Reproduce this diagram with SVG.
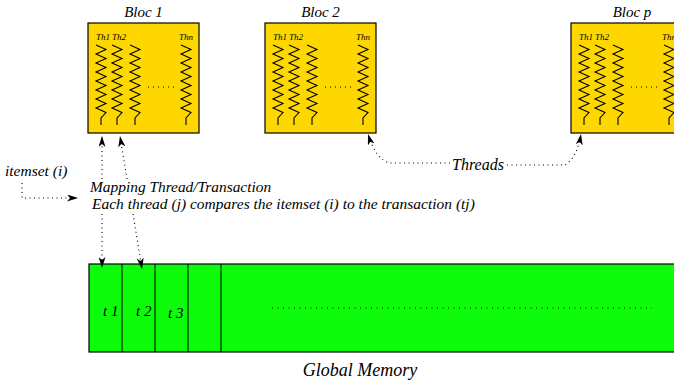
<svg xmlns="http://www.w3.org/2000/svg" xmlns:xlink="http://www.w3.org/1999/xlink" width="674" height="383" viewBox="0 0 674 383">
<style>
.t{font-family:"Liberation Serif","Times New Roman",serif;font-style:italic;fill:#000}
.blk{fill:#ffd700;stroke:#000;stroke-width:1.2}
.zz{fill:none;stroke:#000;stroke-width:1.1;stroke-linejoin:miter}
.dot{fill:none;stroke:#000;stroke-width:1.1;stroke-dasharray:1 3.5}
.mem{fill:#0cfc0c;stroke:#000;stroke-width:1.2}
.div{stroke:#000;stroke-width:1}
</style>
<defs>
<marker id="ah" viewBox="0 0 11 7" refX="11" refY="3.5" markerWidth="11" markerHeight="7" markerUnits="userSpaceOnUse" orient="auto-start-reverse">
<path d="M11,3.5 L0,0 L3,3.5 L0,7 z" fill="#000"/>
</marker>
<path id="zz" class="zz" d="M-5,0 L5,4.5 L-5,9 L5,13.5 L-5,18 L5,22.5 L-5,27 L5,31.5 L-5,36 L5,40.5 L-5,45 L5,49.5 L-5,54 L5,58.5 L-5,63 L5,67.5 L0,73 L0,80"/>
<g id="threads">
<use xlink:href="#zz" x="13" y="22"/>
<use xlink:href="#zz" x="29" y="22"/>
<use xlink:href="#zz" x="47" y="22"/>
<use xlink:href="#zz" x="98" y="22"/>
<text class="t" x="8" y="17" font-size="9">Th1</text>
<text class="t" x="24" y="17" font-size="9">Th2</text>
<text class="t" x="91" y="17" font-size="9">Thn</text>
<line class="dot" x1="60" y1="64" x2="89" y2="64" style="stroke-dasharray:1 4"/>
</g>
</defs>

<g id="bloc1">
<rect class="blk" x="88" y="23" width="111" height="110"/>
<use xlink:href="#threads" x="88" y="23"/>
<text class="t" x="143.5" y="17" font-size="15" text-anchor="middle">Bloc 1</text>
</g>

<g id="bloc2">
<rect class="blk" x="265" y="23" width="111" height="110"/>
<use xlink:href="#threads" x="265" y="23"/>
<text class="t" x="320.5" y="17" font-size="15" text-anchor="middle">Bloc 2</text>
</g>

<g id="blocp">
<rect class="blk" x="571" y="23" width="111" height="110"/>
<use xlink:href="#threads" x="571" y="23"/>
<text class="t" x="632" y="17" font-size="15" text-anchor="middle">Bloc p</text>
</g>

<g id="memory">
<rect class="mem" x="89" y="264" width="600" height="88"/>
<line class="div" x1="122" y1="264" x2="122" y2="352"/>
<line class="div" x1="155" y1="264" x2="155" y2="352"/>
<line class="div" x1="188" y1="264" x2="188" y2="352"/>
<line class="div" x1="221" y1="264" x2="221" y2="352"/>
<text class="t" x="103" y="316" font-size="15">t 1</text>
<text class="t" x="136" y="316" font-size="15">t 2</text>
<text class="t" x="168" y="318" font-size="15">t 3</text>
<line class="dot" x1="272" y1="308" x2="652" y2="308" style="stroke-dasharray:1 4.5"/>
<text class="t" x="360" y="376" font-size="18" text-anchor="middle">Global Memory</text>
</g>

<g id="labels">
<text class="t" x="5" y="176" font-size="15.5">itemset (i)</text>
<text class="t" x="90" y="192" font-size="15.4">Mapping Thread/Transaction</text>
<text class="t" x="92" y="209" font-size="15.5">Each thread (j) compares the itemset (i) to the transaction (tj)</text>
<text class="t" x="478" y="170" font-size="16" text-anchor="middle">Threads</text>
</g>

<g id="connectors">
<path class="dot" d="M102,179 L102,136" marker-end="url(#ah)"/>
<path class="dot" d="M102,214 L102,268" marker-end="url(#ah)"/>
<path class="dot" d="M127,179 L120,136" marker-end="url(#ah)"/>
<path class="dot" d="M133,214 L142,269" marker-end="url(#ah)"/>
<path class="dot" d="M22,183 L22,198 L78,198" marker-end="url(#ah)"/>
<path class="dot" d="M450,163 L390,163 Q376,160 368,134" marker-end="url(#ah)"/>
<path class="dot" d="M507,165 L565,165 Q577,158 581,134" marker-end="url(#ah)"/>
</g>
</svg>
